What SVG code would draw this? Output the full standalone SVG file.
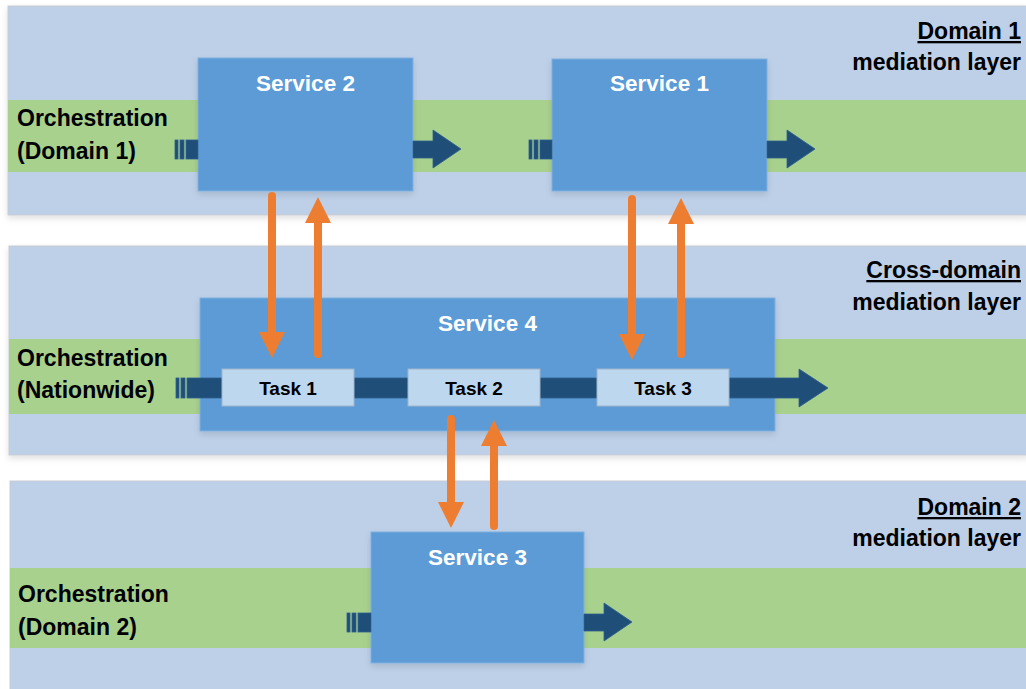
<svg xmlns="http://www.w3.org/2000/svg" width="1026" height="689" viewBox="0 0 1026 689">
  <defs>
    <style>
      .layer { fill: #BDD0E8; stroke: #C8CCD2; stroke-width: 1; }
      .band { fill: #A9D18E; }
      .svc { fill: #5B9BD5; stroke: #7FB0DE; stroke-width: 1; }
      .task { fill: #BDD7EE; stroke: #9FB6CC; stroke-width: 1; }
      .dark { fill: #1F4E79; stroke: #2E5F8E; stroke-width: 0.8; }
      .lbl { font-family: "Liberation Sans", Arial, sans-serif; font-weight: bold; font-size: 23px; fill: #000; }
      .rlbl { font-family: "Liberation Sans", Arial, sans-serif; font-weight: bold; font-size: 23px; fill: #000; text-anchor: end; }
      .stitle { font-family: "Liberation Sans", Arial, sans-serif; font-weight: bold; font-size: 22.5px; fill: #FFFFFF; text-anchor: middle; }
      .ttitle { font-family: "Liberation Sans", Arial, sans-serif; font-weight: bold; font-size: 19px; fill: #000; text-anchor: middle; }
      .orange { stroke: #ED7D31; stroke-width: 8; stroke-linecap: round; fill: none; }
      .ohead { fill: #ED7D31; }
    </style>
    <filter id="sh" x="-5%" y="-5%" width="110%" height="120%">
      <feDropShadow dx="0" dy="3" stdDeviation="3" flood-color="#000" flood-opacity="0.12"/>
    </filter>
  </defs>

  <rect width="1026" height="689" fill="#FFFFFF"/>

  <!-- Layers -->
  <g id="layer-domain1">
    <rect class="layer" x="8" y="6" width="1020" height="209" filter="url(#sh)"/>
    <rect class="band" x="8" y="100" width="1018" height="72"/>
    <text class="lbl" x="17" y="126">Orchestration</text>
    <text class="lbl" x="17" y="159">(Domain 1)</text>
    <text class="rlbl" x="1021" y="39" text-decoration="underline">Domain 1</text>
    <text class="rlbl" x="1021" y="70">mediation layer</text>
  </g>

  <g id="layer-cross">
    <rect class="layer" x="9" y="246" width="1019" height="209" filter="url(#sh)"/>
    <rect class="band" x="9" y="339" width="1017" height="75"/>
    <text class="lbl" x="17" y="366">Orchestration</text>
    <text class="lbl" x="17" y="398">(Nationwide)</text>
    <text class="rlbl" x="1021" y="278" text-decoration="underline">Cross-domain</text>
    <text class="rlbl" x="1021" y="310">mediation layer</text>
  </g>

  <g id="layer-domain2">
    <rect class="layer" x="10" y="481" width="1018" height="210"/>
    <rect class="band" x="10" y="568" width="1016" height="80"/>
    <text class="lbl" x="18" y="602">Orchestration</text>
    <text class="lbl" x="18" y="635">(Domain 2)</text>
    <text class="rlbl" x="1021" y="515" text-decoration="underline">Domain 2</text>
    <text class="rlbl" x="1021" y="546">mediation layer</text>
  </g>

  <!-- Services -->
  <g id="service2">
    <rect class="svc" x="198" y="58" width="215" height="133" filter="url(#sh)"/>
    <text class="stitle" x="305.5" y="91">Service 2</text>
  </g>
  <g id="service1">
    <rect class="svc" x="552" y="59" width="215" height="132" filter="url(#sh)"/>
    <text class="stitle" x="659.5" y="91">Service 1</text>
  </g>
  <g id="service4">
    <rect class="svc" x="200" y="298" width="575" height="133" filter="url(#sh)"/>
    <text class="stitle" x="487.5" y="331">Service 4</text>
  </g>
  <g id="service3">
    <rect class="svc" x="371" y="532" width="213" height="131" filter="url(#sh)"/>
    <text class="stitle" x="477.5" y="565">Service 3</text>
  </g>

  <!-- Connectors -->
  <g id="connectors">
    <!-- Domain 1 flow -->
    <rect class="dark" x="175" y="140" width="3" height="19"/>
    <rect class="dark" x="180" y="140" width="4" height="19"/>
    <rect class="dark" x="186" y="140" width="12" height="19"/>
    <polygon class="dark" points="413,141 433,141 433,130 461,149 433,168 433,158 413,158"/>
    <rect class="dark" x="529" y="140" width="3" height="19"/>
    <rect class="dark" x="534" y="140" width="4" height="19"/>
    <rect class="dark" x="540" y="140" width="12" height="19"/>
    <polygon class="dark" points="767,141 787,141 787,130 815,149 787,168 787,158 767,158"/>

    <!-- Nationwide flow -->
    <rect class="dark" x="176" y="378" width="3" height="20"/>
    <rect class="dark" x="181" y="378" width="4" height="20"/>
    <polygon class="dark" points="187,378 799,378 799,369 828,388 799,407 799,398 187,398"/>

    <!-- Domain 2 flow -->
    <rect class="dark" x="347" y="613" width="3" height="19"/>
    <rect class="dark" x="352" y="613" width="4" height="19"/>
    <rect class="dark" x="358" y="613" width="13" height="19"/>
    <polygon class="dark" points="584,614 604,614 604,603 632,622 604,641 604,631 584,631"/>

    <!-- Orange arrows Service 2 <-> Task 1 -->
    <line class="orange" x1="272" y1="196" x2="272" y2="334"/>
    <polygon class="ohead" points="259,332 285,332 272,358"/>
    <line class="orange" x1="318" y1="354" x2="318" y2="221"/>
    <polygon class="ohead" points="305,223 331,223 318,197"/>

    <!-- Orange arrows Service 1 <-> Task 3 -->
    <line class="orange" x1="632" y1="199" x2="632" y2="336"/>
    <polygon class="ohead" points="619,334 645,334 632,360"/>
    <line class="orange" x1="681" y1="354" x2="681" y2="222"/>
    <polygon class="ohead" points="668,224 694,224 681,198"/>

    <!-- Orange arrows Task 2 <-> Service 3 -->
    <line class="orange" x1="451" y1="419" x2="451" y2="504"/>
    <polygon class="ohead" points="438,502 464,502 451,528"/>
    <line class="orange" x1="494" y1="526" x2="494" y2="444"/>
    <polygon class="ohead" points="481,446 507,446 494,420"/>
  </g>

  <!-- Tasks -->
  <g id="task1">
    <rect class="task" x="222" y="369" width="132" height="37"/>
    <text class="ttitle" x="288" y="395">Task 1</text>
  </g>
  <g id="task2">
    <rect class="task" x="408" y="369" width="132" height="37"/>
    <text class="ttitle" x="474" y="395">Task 2</text>
  </g>
  <g id="task3">
    <rect class="task" x="597" y="369" width="132" height="37"/>
    <text class="ttitle" x="663" y="395">Task 3</text>
  </g>
</svg>
